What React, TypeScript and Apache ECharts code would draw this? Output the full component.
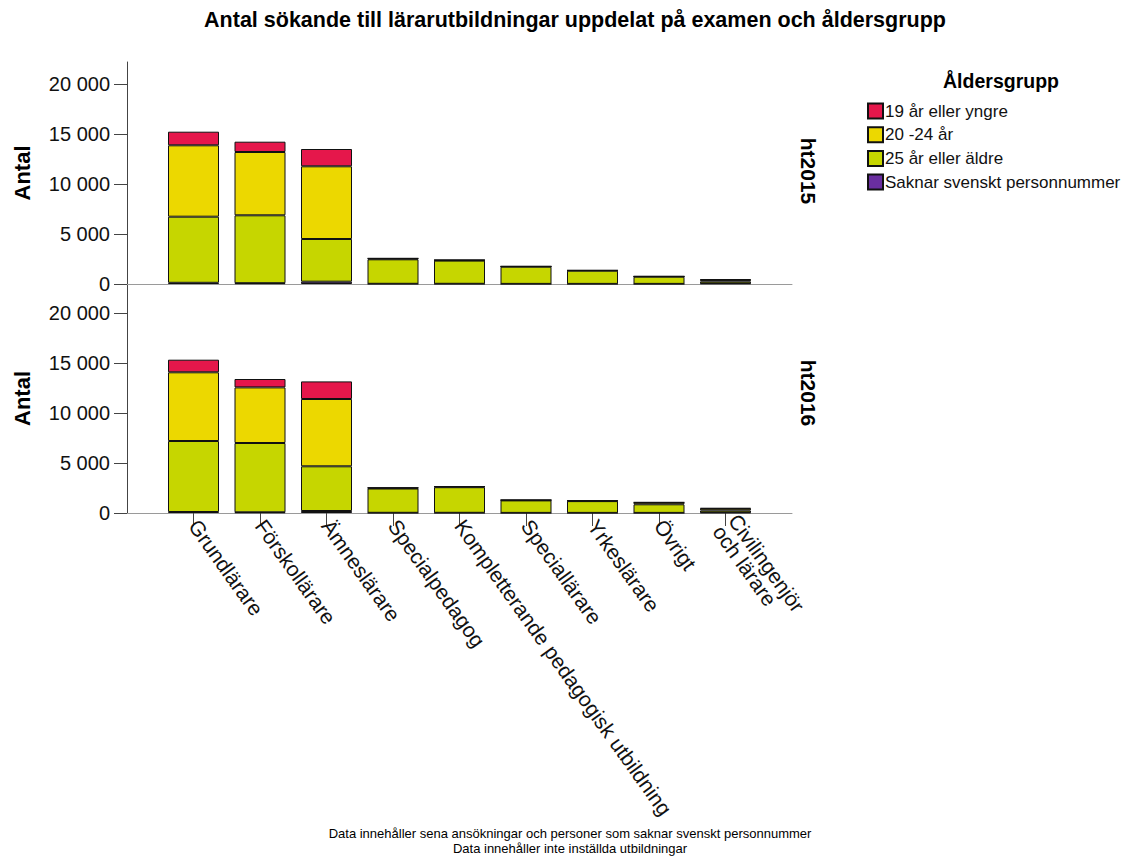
import React, { useEffect, useRef } from "react";
import * as echarts from "echarts";

const categories = [
  "Grundlärare",
  "Förskollärare",
  "Ämneslärare",
  "Specialpedagog",
  "Kompletterande pedagogisk utbildning",
  "Speciallärare",
  "Yrkeslärare",
  "Övrigt",
  "Civilingenjör\noch lärare",
];

const seriesNames = ["19 år eller yngre", "20 -24 år", "25 år eller äldre", "Saknar svenskt personnummer"];
const seriesColors = ["#e5174b", "#ecd800", "#c6d600", "#6a2ea0"];

// ht2015
const red2015 = [1360, 1030, 1730, 20, 10, 10, 10, 10, 60];
const yellow2015 = [7140, 6330, 7270, 80, 50, 30, 30, 30, 150];
const green2015 = [6610, 6790, 4270, 2450, 2320, 1720, 1320, 720, 200];
const purple2015 = [120, 80, 230, 20, 20, 10, 10, 10, 60];

// ht2016
const red2016 = [1260, 840, 1760, 20, 20, 10, 10, 20, 70];
const yellow2016 = [6870, 5560, 6730, 60, 60, 30, 30, 180, 180];
const green2016 = [7100, 6930, 4470, 2430, 2560, 1250, 1180, 860, 200];
const purple2016 = [100, 70, 200, 20, 20, 10, 10, 10, 50];

const yTicks = [0, 5000, 10000, 15000, 20000];
const panelLabels = ["ht2015", "ht2016"];
const footnotes = [
  "Data innehåller sena ansökningar och personer som saknar svenskt personnummer",
  "Data innehåller inte inställda utbildningar",
];

const FONT = "'Liberation Sans', Arial, sans-serif";

const pad = (arr: number[]) => [null, ...arr, null];
const paddedCats = ["", ...categories, ""];

export default function App() {
  const ref = useRef<HTMLDivElement>(null);
  useEffect(() => {
    document.body.style.margin = "0";
    if (!ref.current) return;
    const chart = echarts.init(ref.current, null, { renderer: "svg" });

    const fmt = (v: number) => String(v).replace(/\B(?=(\d{3})+(?!\d))/g, " ");

    const makeY = (gridIndex: number, max: number) => ({
      type: "value",
      gridIndex,
      min: 0,
      max,
      name: "Antal",
      nameLocation: "middle",
      nameGap: 94,
      nameRotate: 90,
      nameTextStyle: { fontFamily: FONT, fontSize: 22, fontWeight: "bold", color: "#000" },
      axisLine: { show: true, lineStyle: { color: "#444", width: 1 } },
      axisTick: { show: true, length: 13, customValues: yTicks, lineStyle: { color: "#444" } },
      axisLabel: {
        customValues: yTicks,
        formatter: (v: number) => fmt(v),
        fontFamily: FONT,
        fontSize: 20,
        color: "#111",
        margin: 17,
      },
      splitLine: { show: false },
    });

    const makeX = (gridIndex: number, showLabels: boolean) => ({
      type: "category",
      gridIndex,
      data: paddedCats,
      boundaryGap: false,
      axisLine: { show: true, lineStyle: { color: "#9a9a9a", width: 1 } },
      axisTick: {
        show: showLabels,
        length: 13,
        interval: (i: number) => i > 0 && i < paddedCats.length - 1,
        lineStyle: { color: "#444" },
      },
      axisLabel: {
        show: showLabels,
        interval: (i: number) => i > 0 && i < paddedCats.length - 1,
        rotate: -54.5,
        fontFamily: FONT,
        fontSize: 21,
        color: "#111",
        margin: 9,
        lineHeight: 19,
      },
      splitLine: { show: false },
    });

    const datasets = [
      [purple2015, green2015, yellow2015, red2015],
      [purple2016, green2016, yellow2016, red2016],
    ];
    const order = [3, 2, 1, 0]; // stack from bottom: purple, green, yellow, red

    const series: any[] = [];
    datasets.forEach((ds, gi) => {
      ds.forEach((vals, k) => {
        const si = order[k];
        series.push({
          type: "bar",
          name: seriesNames[si],
          xAxisIndex: gi,
          yAxisIndex: gi,
          stack: "s" + gi,
          barWidth: 51,
          data: pad(vals),
          itemStyle: { color: seriesColors[si], borderColor: "#111", borderWidth: 1 },
        });
      });
    });

    chart.setOption({
      animation: false,
      textStyle: { fontFamily: FONT },
      title: [
        {
          text: "Antal sökande till lärarutbildningar uppdelat på examen och åldersgrupp",
          left: 570,
          top: 4,
          textAlign: "center",
          textStyle: { fontFamily: FONT, fontSize: 21.5, fontWeight: "bold", color: "#000" },
        },
        {
          text: "Åldersgrupp",
          left: 996,
          top: 66,
          textAlign: "center",
          textStyle: { fontFamily: FONT, fontSize: 19.5, fontWeight: "bold", color: "#000" },
        },
      ],
      legend: {
        orient: "vertical",
        left: 862,
        top: 97.5,
        itemWidth: 15,
        itemHeight: 15,
        itemGap: 6.7,
        icon: "rect",
        data: seriesNames,
        textStyle: {
          fontFamily: FONT,
          fontSize: 17,
          lineHeight: 15,
          color: "#111",
          padding: [0, 0, 0, -3],
        },
        selectedMode: false,
      },
      grid: [
        { left: 127, top: 62, width: 665, height: 222 },
        { left: 127, top: 284, width: 665, height: 229 },
      ],
      xAxis: [makeX(0, false), makeX(1, true)],
      yAxis: [makeY(0, 22200), makeY(1, 22900)],
      series,
      graphic: [
        {
          type: "text",
          x: 808,
          y: 171,
          rotation: -Math.PI / 2,
          style: {
            text: panelLabels[0],
            font: `bold 21px ${FONT}`,
            fill: "#000",
            align: "center",
            verticalAlign: "middle",
          },
        },
        {
          type: "text",
          x: 808,
          y: 393,
          rotation: -Math.PI / 2,
          style: {
            text: panelLabels[1],
            font: `bold 21px ${FONT}`,
            fill: "#000",
            align: "center",
            verticalAlign: "middle",
          },
        },
        {
          type: "text",
          x: 570,
          y: 833,
          style: {
            text: footnotes[0],
            font: `13px ${FONT}`,
            fill: "#000",
            align: "center",
            verticalAlign: "middle",
          },
        },
        {
          type: "text",
          x: 570,
          y: 848,
          style: {
            text: footnotes[1],
            font: `13px ${FONT}`,
            fill: "#000",
            align: "center",
            verticalAlign: "middle",
          },
        },
      ],
    });
    return () => chart.dispose();
  }, []);
  return <div ref={ref} style={{ width: 1131, height: 861 }} />;
}
